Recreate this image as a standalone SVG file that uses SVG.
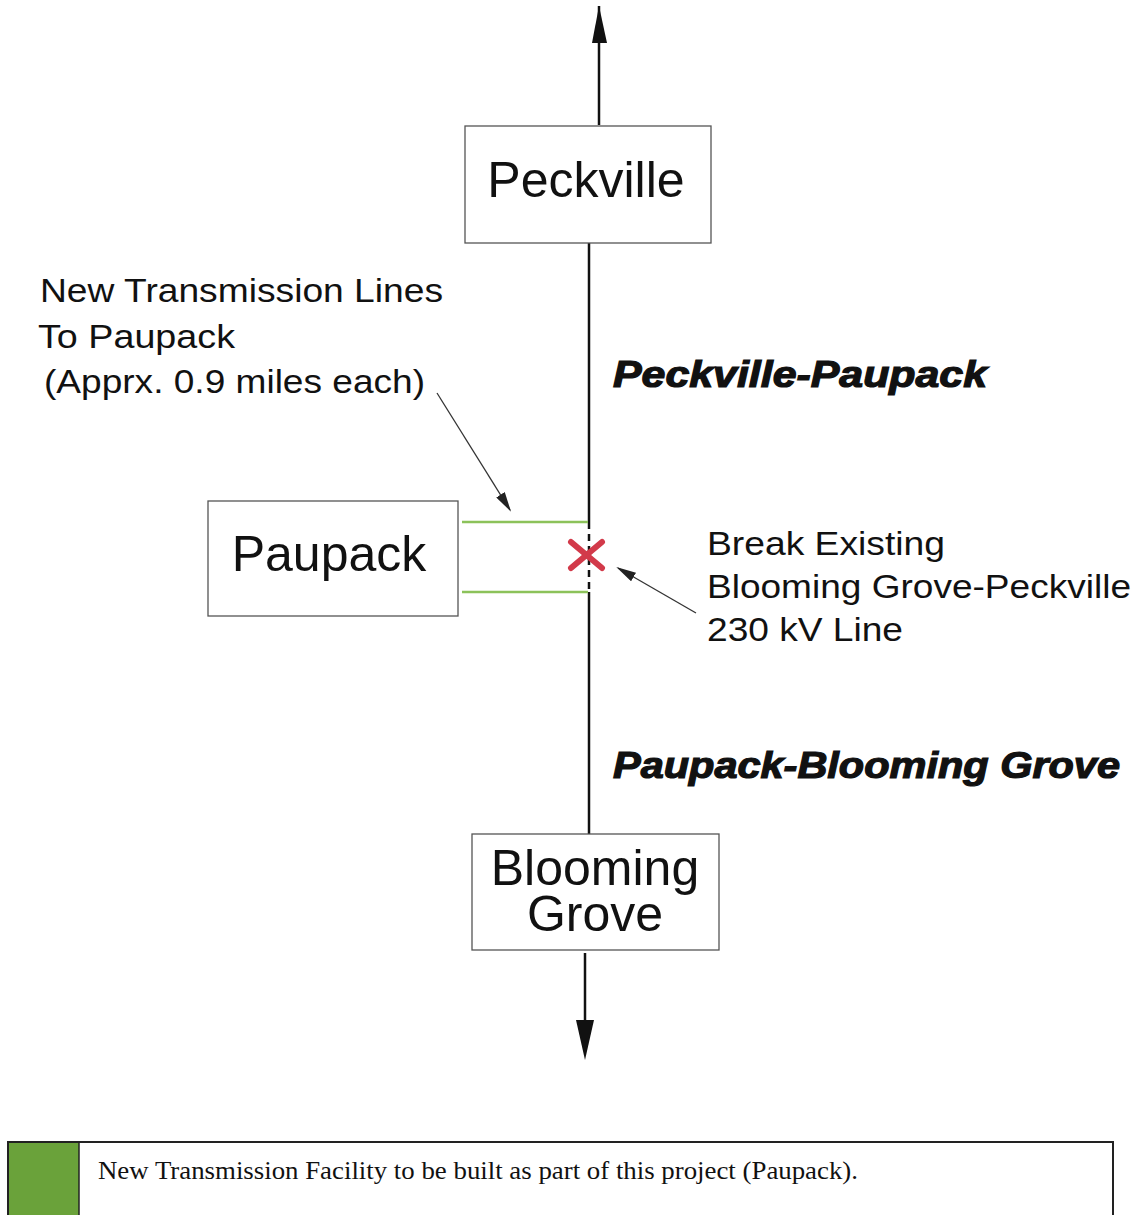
<svg xmlns="http://www.w3.org/2000/svg" width="1136" height="1215" viewBox="0 0 1136 1215">
<defs>
<style>
.box{fill:#fff;stroke:#555;stroke-width:1.3}
.name{font-family:"Liberation Sans",Arial,sans-serif;font-size:50px;fill:#111;text-anchor:middle}
.lbl{font-family:"Liberation Sans",Arial,sans-serif;font-size:34px;fill:#111}
.bi{font-family:"Liberation Sans",Arial,sans-serif;font-size:36px;font-weight:900;font-style:italic;fill:#111;stroke:#111;stroke-width:1.2}
.line{stroke:#111;stroke-width:2.5;fill:none}
.thin{stroke:#333;stroke-width:1.3;fill:none}
.green{stroke:#8cc25a;stroke-width:2.5;fill:none}
</style>
<marker id="sm" viewBox="0 0 10 10" refX="9" refY="5" markerWidth="20" markerHeight="10" markerUnits="userSpaceOnUse" orient="auto" preserveAspectRatio="none">
<path d="M0,0 L10,5 L0,10 Z" fill="#222"/>
</marker>
</defs>
<rect width="1136" height="1215" fill="#fff"/>
<g id="connectors">
<line x1="599" y1="125" x2="599" y2="6" class="line"/>
<path d="M599,6 L607,43 L592,43 Z" fill="#111"/>
<line x1="589" y1="243" x2="589" y2="522" class="line"/>
<line x1="589" y1="522" x2="589" y2="592" class="line" stroke-dasharray="7,5"/>
<line x1="589" y1="592" x2="589" y2="834" class="line"/>
<line x1="585" y1="953" x2="585" y2="1025" class="line"/>
<path d="M585,1060 L576,1020 L594,1020 Z" fill="#111"/>
<line x1="462" y1="522" x2="588" y2="522" class="green"/>
<line x1="462" y1="592" x2="588" y2="592" class="green"/>
<line x1="437" y1="393" x2="510" y2="510" class="thin" marker-end="url(#sm)"/>
<line x1="696" y1="613" x2="618" y2="568" class="thin" marker-end="url(#sm)"/>
</g>
<g id="break-x" stroke="#d23a4a" stroke-width="6" stroke-linecap="round">
<line x1="571" y1="542" x2="602" y2="568"/>
<line x1="602" y1="542" x2="571" y2="568"/>
</g>
<g id="peckville">
<rect x="465" y="126" width="246" height="117" class="box"/>
<text x="586" y="197" class="name">Peckville</text>
</g>
<g id="paupack">
<rect x="208" y="501" width="250" height="115" class="box"/>
<text x="329" y="571" class="name">Paupack</text>
</g>
<g id="blooming-grove">
<rect x="472" y="834" width="247" height="116" class="box"/>
<text x="595" y="885" class="name">Blooming</text>
<text x="595" y="931" class="name">Grove</text>
</g>
<g id="labels">
<text x="40" y="302" class="lbl" textLength="403" lengthAdjust="spacingAndGlyphs">New Transmission Lines</text>
<text x="38" y="348" class="lbl" textLength="197" lengthAdjust="spacingAndGlyphs">To Paupack</text>
<text x="44" y="393" class="lbl" textLength="381" lengthAdjust="spacingAndGlyphs">(Apprx. 0.9 miles each)</text>
<text x="613" y="387" class="bi" textLength="374" lengthAdjust="spacingAndGlyphs">Peckville-Paupack</text>
<text x="613" y="778" class="bi" textLength="507" lengthAdjust="spacingAndGlyphs">Paupack-Blooming Grove</text>
<text x="707" y="555" class="lbl" textLength="238" lengthAdjust="spacingAndGlyphs">Break Existing</text>
<text x="707" y="598" class="lbl" textLength="424" lengthAdjust="spacingAndGlyphs">Blooming Grove-Peckville</text>
<text x="707" y="641" class="lbl" textLength="196" lengthAdjust="spacingAndGlyphs">230 kV Line</text>
</g>
<g id="legend">
<rect x="8" y="1142" width="1105" height="80" fill="#fff" stroke="#222" stroke-width="2"/>
<rect x="9" y="1143" width="70" height="78" fill="#6aa23a"/>
<line x1="79" y1="1142" x2="79" y2="1215" stroke="#222" stroke-width="1.5"/>
<text x="98" y="1179" font-family="'Liberation Serif','Times New Roman',serif" font-size="25" fill="#111" textLength="760" lengthAdjust="spacingAndGlyphs">New Transmission Facility to be built as part of this project (Paupack).</text>
</g>
</svg>
